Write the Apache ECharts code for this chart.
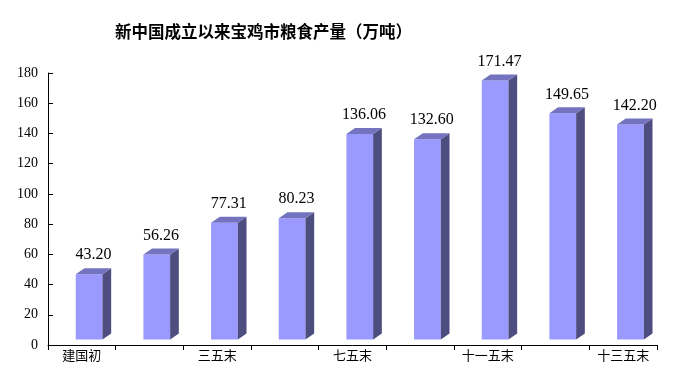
<!DOCTYPE html>
<html>
<head>
<meta charset="utf-8">
<script src="https://cdn.jsdelivr.net/npm/echarts@6/dist/echarts.min.js"></script>
<style>html,body{margin:0;padding:0;background:#fff}#c{width:691px;height:380px}</style>
</head>
<body>
<div id="c"></div>
<script>
const titleText = '新中国成立以来宝鸡市粮食产量（万吨）';
const categories = ['建国初', '一五末', '三五末', '五五末', '七五末', '九五末', '十一五末', '十二五末', '十三五末'];
const values = [43.20, 56.26, 77.31, 80.23, 136.06, 132.60, 171.47, 149.65, 142.20];
const yMin = 0, yMax = 180, yStep = 20;

const chart = echarts.init(document.getElementById('c'), null, {renderer: 'canvas'});

function renderItem(params, api) {
  const idx = api.value(0);
  const val = api.value(1);
  const base = api.coord([idx, 0]);
  const top = api.coord([idx, val]);
  const bw = api.size([1, 0])[0];
  const lift = 5.5, dx = 8.7, dy = 6;
  const x0 = base[0] - 0.09 * bw;
  const w = 0.395 * bw;
  const x1 = x0 + w;
  const yb = base[1] - lift;
  const yt = top[1] - lift;
  return {
    type: 'group',
    children: [
      {type: 'rect', shape: {x: x0, y: yt, width: w, height: yb - yt}, style: {fill: '#9999FF'}},
      {type: 'polygon', shape: {points: [[x1, yt], [x1 + dx, yt - dy], [x1 + dx, yb - dy], [x1, yb]]}, style: {fill: '#4D4D80'}},
      {type: 'polygon', shape: {points: [[x0, yt], [x0 + dx, yt - dy], [x1 + dx, yt - dy], [x1, yt]]}, style: {fill: '#7373BF'}},
      {type: 'text', style: {text: val.toFixed(2), x: (x0 + x1 + dx) / 2, y: yt - dy - 5, align: 'center', verticalAlign: 'bottom', fill: '#000', font: '16px "Liberation Serif", serif'}}
    ]
  };
}

chart.setOption({
  animation: false,
  backgroundColor: '#fff',
  title: {
    text: titleText, left: 110, top: 18,
    textStyle: {fontFamily: '"Noto Sans CJK SC"', fontSize: 16.5, fontWeight: 'bold', color: '#000'}
  },
  grid: {left: 48, right: 34, top: 73, bottom: 35},
  xAxis: {
    type: 'category', data: categories,
    axisLine: {lineStyle: {color: '#000', width: 1}},
    axisTick: {show: true, inside: false, length: 5, alignWithLabel: false, interval: 0, lineStyle: {color: '#000'}},
    axisLabel: {interval: 1, color: '#000', fontFamily: '"Noto Sans CJK SC"', fontSize: 13, margin: 4}
  },
  yAxis: {
    type: 'value', min: yMin, max: yMax, interval: yStep,
    splitLine: {show: false},
    axisLine: {show: true, lineStyle: {color: '#000', width: 1}},
    axisTick: {show: true, inside: true, length: 5, lineStyle: {color: '#000'}},
    axisLabel: {color: '#000', fontFamily: '"Liberation Serif", serif', fontSize: 14, margin: 10}
  },
  series: [{
    type: 'custom',
    renderItem: renderItem,
    encode: {x: 0, y: 1},
    data: values.map((v, i) => [i, v]),
    clip: false
  }]
});
</script>
</body>
</html>
